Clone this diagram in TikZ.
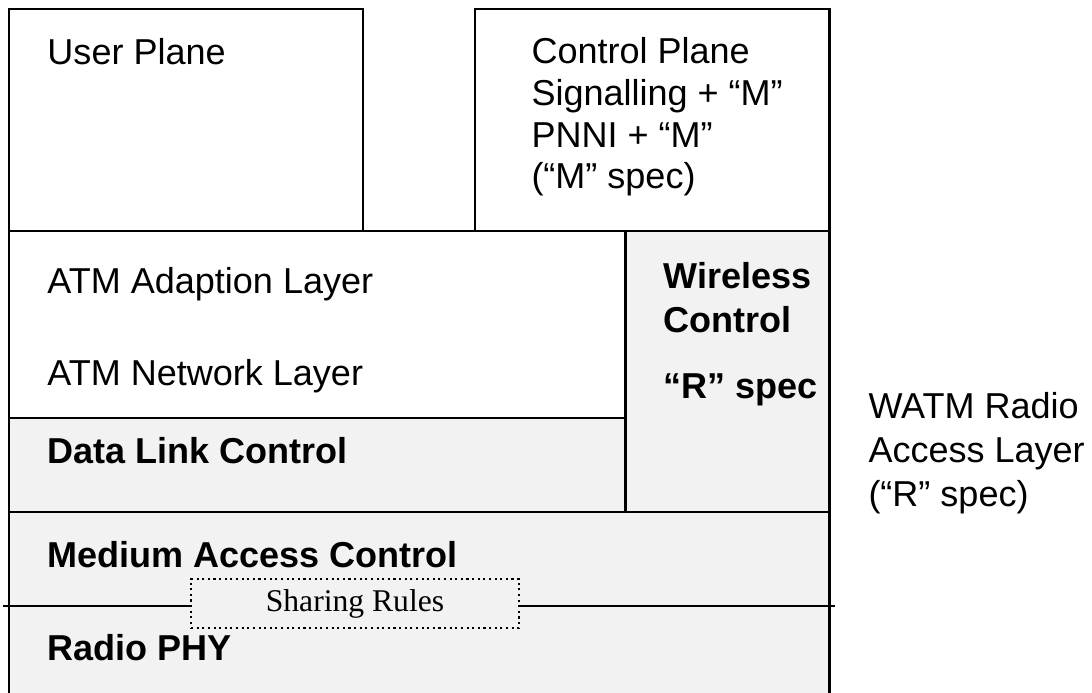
\documentclass[tikz,border=0pt]{standalone}
\usepackage{fontspec}
\setmainfont{Liberation Sans}
\newfontfamily\rulesfont{Liberation Serif}
\definecolor{layergray}{HTML}{F2F2F2}

\begin{document}
\begin{tikzpicture}[x=0.02cm, y=-0.02cm, line width=1.7pt,
  layer/.style={draw, fill=layergray},
  txt/.style={anchor=base west, inner sep=0pt, font=\fontsize{20.5}{24}\selectfont},
  boldtxt/.style={txt, font=\fontsize{20.5}{24}\selectfont\bfseries},
  rules/.style={draw, dotted, line width=1.2pt, fill=layergray, minimum width=6.56cm, minimum height=0.98cm, inner sep=0pt, font=\rulesfont\fontsize{18}{20}\selectfont}]
\useasboundingbox (0,0) rectangle (1092,693);
% planes
\draw (9,9) rectangle (363,231);
\draw (475,9) rectangle (829,231);
% layers
\draw[fill=white] (9,231) rectangle (625,418);
\draw[layer] (625,231) rectangle (829,512);
\draw[layer] (9,418) rectangle (625,512);
\draw[layer] (9,512) rectangle (829,720);
\begin{scope}[every node/.style={txt}]
\node (user) at (46,64) {User Plane};
\node (ctrl1) at (530,63) {Control Plane};
\node (ctrl2) at (530,105) {Signalling + “M”};
\node (ctrl3) at (530,147) {PNNI + “M”};
\node (ctrl4) at (530,188) {(“M” spec)};
\node (aal) at (46,293) {ATM Adaption Layer};
\node (anl) at (46,385) {ATM Network Layer};
\node[boldtxt] (dlc) at (46,463) {Data Link Control};
\node[boldtxt] (wc1) at (662,288) {Wireless};
\node[boldtxt] (wc2) at (662,332) {Control};
\node[boldtxt] (wc3) at (662,398) {“R” spec};
\node[boldtxt] (mac) at (46,567) {Medium Access Control};
\node[boldtxt] (phy) at (46,660) {Radio PHY};
\node (watm1) at (867,418) {WATM Radio};
\node (watm2) at (867,462) {Access Layer};
\node (watm3) at (867,506) {(“R” spec)};
\end{scope}
% sharing rules across MAC / PHY
\coordinate (lineL) at (3,606);
\coordinate (lineR) at (835,606);
\node[rules] (share) at (355,603.5) {Sharing Rules};
\draw[line width=1.2pt] (lineL) -- (lineL -| share.west);
\draw[line width=1.2pt] (lineR -| share.east) -- (lineR);
\end{tikzpicture}
\end{document}
